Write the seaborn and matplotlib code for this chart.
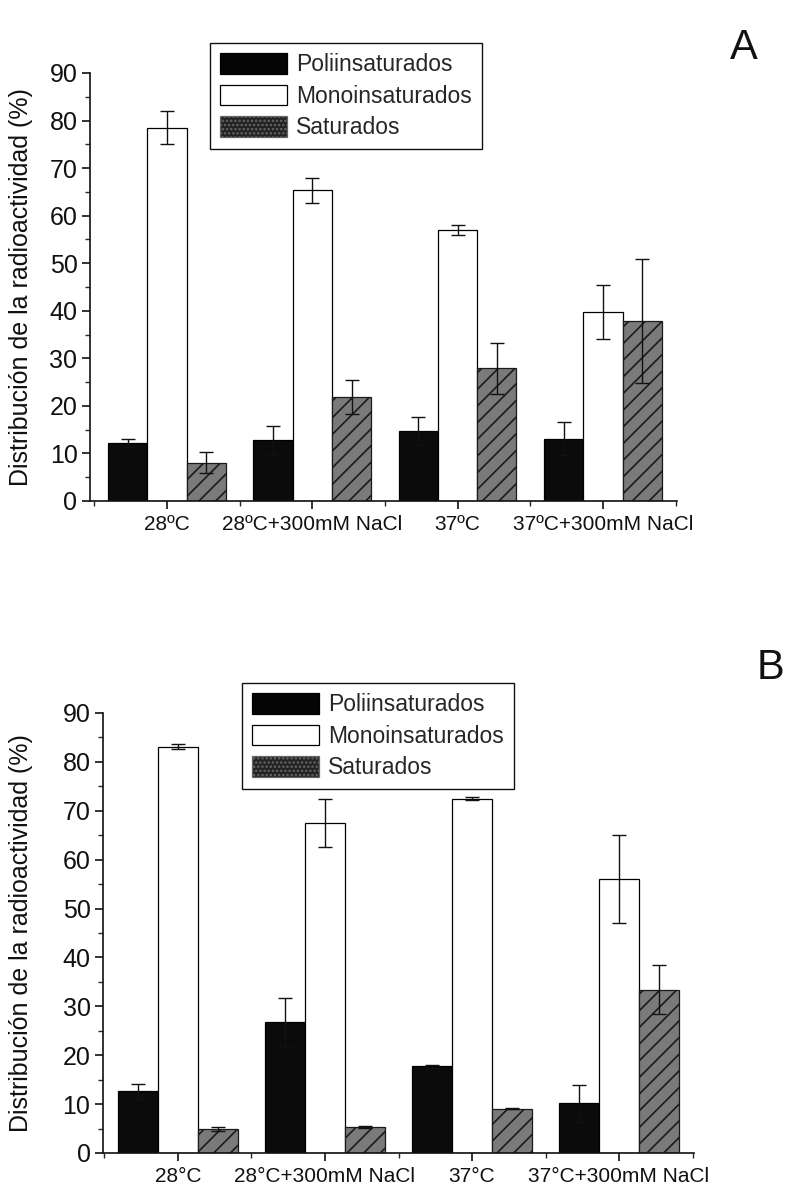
import numpy as np
import pandas as pd
import matplotlib
matplotlib.use("Agg")
import matplotlib.pyplot as plt
from matplotlib.patches import Patch
from matplotlib.ticker import MultipleLocator, FixedLocator
import seaborn as sns

# Conditions (x categories) and fatty-acid fractions (hue)
conditions_a = ["28ºC", "28ºC+300mM NaCl", "37ºC", "37ºC+300mM NaCl"]
conditions_b = ["28°C", "28°C+300mM NaCl", "37°C", "37°C+300mM NaCl"]
fractions = ["Poliinsaturados", "Monoinsaturados", "Saturados"]

# Panel A: mean distribution (%) and error
poli_a = [12.2, 12.8, 14.7, 13.1]
poli_a_err = [0.8, 3.0, 3.0, 3.5]
mono_a = [78.5, 65.3, 57.0, 39.7]
mono_a_err = [3.5, 2.7, 1.1, 5.7]
sat_a = [8.0, 21.8, 27.9, 37.9]
sat_a_err = [2.2, 3.6, 5.3, 13.0]

# Panel B: mean distribution (%) and error
poli_b = [12.6, 26.8, 17.7, 10.2]
poli_b_err = [1.6, 5.0, 0.4, 3.8]
mono_b = [83.1, 67.5, 72.5, 56.0]
mono_b_err = [0.5, 5.0, 0.3, 9.0]
sat_b = [5.0, 5.3, 9.1, 33.4]
sat_b_err = [0.4, 0.2, 0.2, 5.0]

y_label = "Distribución de la radioactividad (%)"

sns.set_theme(style="ticks")
plt.rcParams["font.family"] = ["Liberation Sans", "DejaVu Sans"]
plt.rcParams["hatch.linewidth"] = 1.2
plt.rcParams["axes.linewidth"] = 1.2

W, H = 790, 1187
fig = plt.figure(figsize=(W / 100, H / 100), dpi=100)

bar_styles = [
    dict(facecolor="#0b0b0b", edgecolor="#000000", hatch=None),
    dict(facecolor="#ffffff", edgecolor="#000000", hatch=None),
    dict(facecolor="#7a7a7a", edgecolor="#1a1a1a", hatch="//"),
]


def to_long(conds, series, errors):
    rows = []
    for frac, vals, errs in zip(fractions, series, errors):
        for c, v, e in zip(conds, vals, errs):
            rows.append({"condition": c, "fraction": frac, "value": v, "err": e})
    return pd.DataFrame(rows)


def rect_px(left, right, top, bottom):
    return [left / W, 1 - bottom / H, (right - left) / W, (bottom - top) / H]


def draw_panel(px, conds, series, errors, legend_xy, letter, letter_xy, xlim, label_x):
    left, right, top, bottom = px
    ax = fig.add_axes(rect_px(left, right, top, bottom))
    df = to_long(conds, series, errors)
    sns.barplot(data=df, x="condition", y="value", hue="fraction",
                order=conds, hue_order=fractions, errorbar=None,
                width=0.81, gap=0, legend=False, ax=ax)
    for container, style, vals, errs in zip(ax.containers, bar_styles, series, errors):
        xs = []
        for patch in container.patches:
            patch.set_facecolor(style["facecolor"])
            patch.set_edgecolor(style["edgecolor"])
            patch.set_linewidth(0.9)
            if style["hatch"]:
                patch.set_hatch(style["hatch"])
            xs.append(patch.get_x() + patch.get_width() / 2)
        ax.errorbar(xs, vals, yerr=errs, fmt="none", ecolor="#111111",
                    elinewidth=1.0, capsize=5, capthick=1.0, zorder=5)

    ax.set_xlim(*xlim)
    ax.set_ylim(0, 90)
    ax.yaxis.set_major_locator(MultipleLocator(10))
    ax.yaxis.set_minor_locator(MultipleLocator(5))
    ax.xaxis.set_minor_locator(FixedLocator([-0.5, 0.5, 1.5, 2.5, 3.5]))
    ax.tick_params(axis="both", which="major", direction="out", length=6,
                   width=1.2, colors="#111111")
    ax.tick_params(axis="both", which="minor", direction="out", length=3.5, width=1.0)
    ax.tick_params(axis="y", labelsize=18, pad=3)
    ax.tick_params(axis="x", labelsize=15, pad=4)
    ax.set_xlabel("")
    ax.set_ylabel(y_label, fontsize=18, color="#111111")
    ax.yaxis.set_label_coords((label_x - left) / (right - left), 0.5)
    sns.despine(ax=ax)
    for sp in ("left", "bottom"):
        ax.spines[sp].set_color("#111111")

    handles = [
        Patch(facecolor="#050505", edgecolor="#000000", linewidth=0.9),
        Patch(facecolor="#ffffff", edgecolor="#000000", linewidth=0.9),
        Patch(facecolor="#222222", edgecolor="#666666", hatch="....", linewidth=0.9),
    ]
    leg = ax.legend(handles, fractions, loc="upper left",
                    bbox_to_anchor=(legend_xy[0] / W, 1 - legend_xy[1] / H),
                    bbox_transform=fig.transFigure, frameon=True, fancybox=False,
                    framealpha=1, edgecolor="#111111", fontsize=16.5,
                    handlelength=2.9, handleheight=1.0, labelspacing=0.36,
                    handletextpad=0.4, borderpad=0.45, borderaxespad=0)
    leg.get_frame().set_linewidth(1.0)
    fig.text(letter_xy[0] / W, 1 - letter_xy[1] / H, letter, fontsize=30,
             ha="center", va="center", color="#111111")
    return ax


draw_panel((90, 677, 73, 501), conditions_a,
           [poli_a, mono_a, sat_a], [poli_a_err, mono_a_err, sat_a_err],
           legend_xy=(210, 43), letter="A", letter_xy=(744, 48),
           xlim=(-0.53, 3.51), label_x=33)

draw_panel((103, 694, 713, 1153), conditions_b,
           [poli_b, mono_b, sat_b], [poli_b_err, mono_b_err, sat_b_err],
           legend_xy=(242, 683), letter="B", letter_xy=(770, 668),
           xlim=(-0.51, 3.51), label_x=33)

fig.savefig("out.png", dpi=100)
